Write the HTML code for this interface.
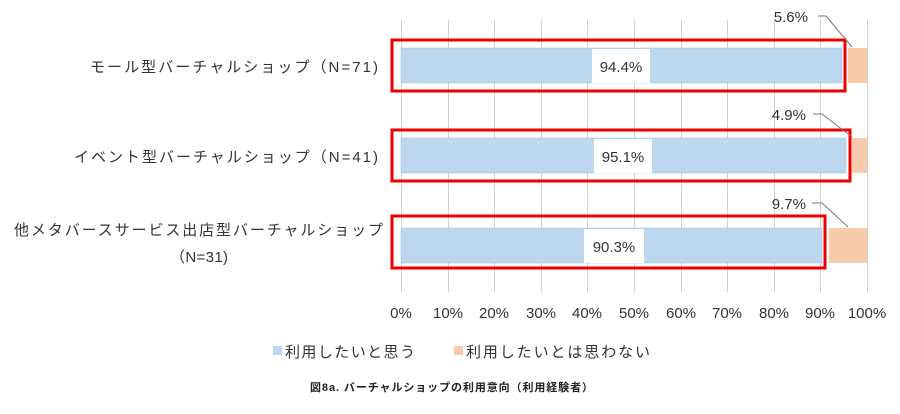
<!DOCTYPE html>
<html><head><meta charset="utf-8"><style>
body{margin:0;background:#fff}
svg text{font-family:"Liberation Sans","Noto Sans CJK JP",sans-serif;fill:#333}
</style></head><body>
<svg width="900" height="409" xmlns="http://www.w3.org/2000/svg">
<g stroke="#d0d0d0" stroke-width="1">
<line x1="401.5" y1="20" x2="401.5" y2="292"/><line x1="448.5" y1="20" x2="448.5" y2="292"/>
<line x1="494.5" y1="20" x2="494.5" y2="292"/><line x1="541.5" y1="20" x2="541.5" y2="292"/>
<line x1="587.5" y1="20" x2="587.5" y2="292"/><line x1="634.5" y1="20" x2="634.5" y2="292"/>
<line x1="681.5" y1="20" x2="681.5" y2="292"/><line x1="727.5" y1="20" x2="727.5" y2="292"/>
<line x1="774.5" y1="20" x2="774.5" y2="292"/><line x1="820.5" y1="20" x2="820.5" y2="292"/>
<line x1="867.5" y1="20" x2="867.5" y2="292"/>
</g>
<g fill="#bdd7ee" stroke="#9dc3e6" stroke-width="0.5">
<rect x="401" y="48" width="441" height="35"/>
<rect x="401" y="138" width="445" height="35"/>
<rect x="401" y="228" width="421" height="35"/>
</g>
<g fill="#f8cbad">
<rect x="848" y="48" width="19" height="35"/>
<rect x="852" y="138" width="15" height="35"/>
<rect x="829" y="228" width="38" height="35"/>
</g>
<g fill="#fff">
<rect x="592" y="49" width="58" height="34"/>
<rect x="594" y="139" width="58" height="34"/>
<rect x="584" y="229" width="60" height="34"/>
</g>
<g font-size="15" text-anchor="middle">
<text x="621" y="72">94.4%</text>
<text x="623" y="162">95.1%</text>
<text x="614" y="252">90.3%</text>
</g>
<g stroke="#e00" stroke-width="3" fill="none">
<rect x="392" y="40" width="453" height="51"/>
<rect x="392" y="130" width="458" height="51"/>
<rect x="392" y="216" width="433" height="52"/>
</g>
<g stroke="#777" fill="none" stroke-width="1">
<polyline points="818,16 826,16 852,47"/>
<polyline points="813,114 822,114 852,137"/>
<polyline points="812,203 822,203 848,227"/>
</g>
<g font-size="15" text-anchor="end">
<text x="808" y="22">5.6%</text>
<text x="806" y="120">4.9%</text>
<text x="806" y="209">9.7%</text>
</g>
<g font-size="15">
<text x="90" y="72" textLength="288" lengthAdjust="spacing">モール型バーチャルショップ（N=71)</text>
<text x="74" y="162" textLength="304" lengthAdjust="spacing">イベント型バーチャルショップ（N=41)</text>
<text x="14" y="235" textLength="369" lengthAdjust="spacing">他メタバースサービス出店型バーチャルショップ</text>
<text x="170" y="262" textLength="58" lengthAdjust="spacing">（N=31)</text>
</g>
<g font-size="15" text-anchor="middle">
<text x="401" y="318">0%</text><text x="448" y="318">10%</text><text x="494" y="318">20%</text>
<text x="541" y="318">30%</text><text x="587" y="318">40%</text><text x="634" y="318">50%</text>
<text x="681" y="318">60%</text><text x="727" y="318">70%</text><text x="774" y="318">80%</text>
<text x="820" y="318">90%</text><text x="867" y="318">100%</text>
</g>
<rect x="273" y="346" width="9" height="9" fill="#bdd7ee"/>
<text x="285" y="357" font-size="15" textLength="130" lengthAdjust="spacing">利用したいと思う</text>
<rect x="454" y="346" width="9" height="9" fill="#f8cbad"/>
<text x="466" y="357" font-size="15" textLength="184" lengthAdjust="spacing">利用したいとは思わない</text>
<text x="310" y="391" font-size="11" font-weight="bold" textLength="283" lengthAdjust="spacing" style="fill:#222">図8a. バーチャルショップの利用意向（利用経験者）</text>
</svg>
</body></html>
